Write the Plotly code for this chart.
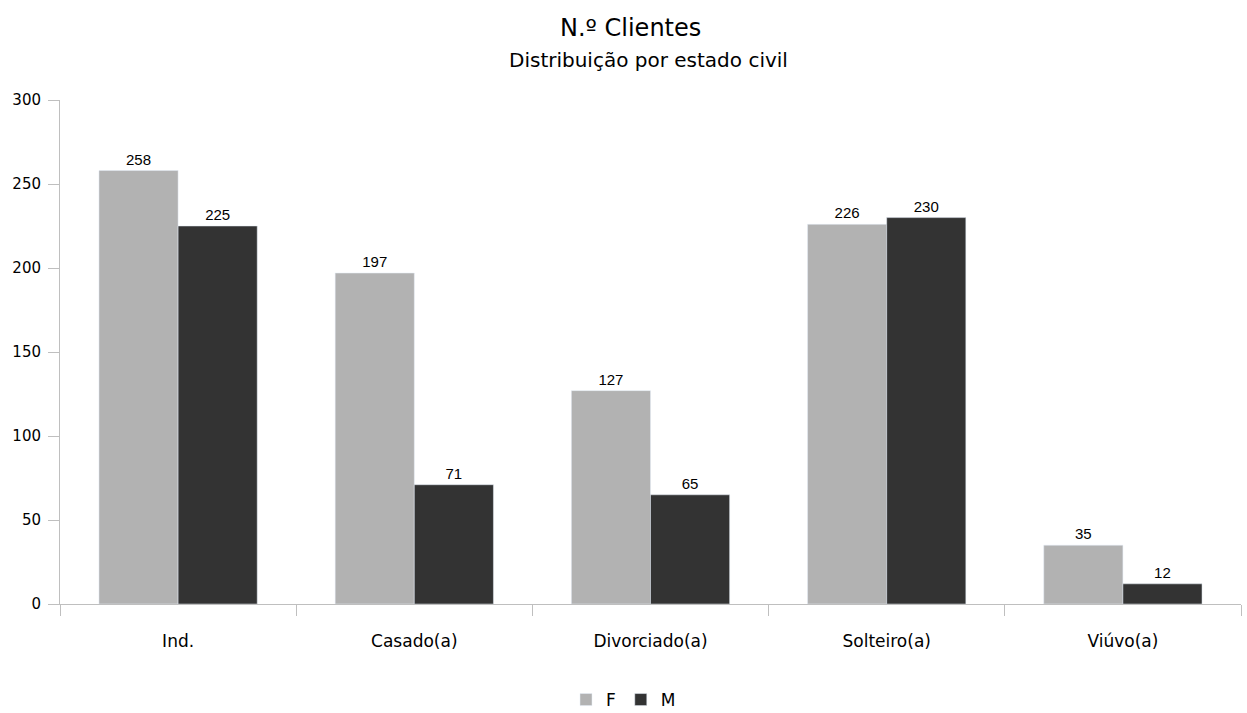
import plotly.graph_objects as go

categorias = ["Ind.", "Casado(a)", "Divorciado(a)", "Solteiro(a)", "Viúvo(a)"]
feminino = [258, 197, 127, 226, 35]
masculino = [225, 71, 65, 230, 12]
y_ticks = [0, 50, 100, 150, 200, 250, 300]

W, H = 1247, 713
ML, MR, MT, MB = 60, 6, 100, 109
PW, PH = W - ML - MR, H - MT - MB

BASE_FONT = "DejaVu Sans, Open Sans, sans-serif"
LABEL_FONT = "Liberation Sans, Arial, sans-serif"


def px_x(px):
    return (px - ML) / PW


def px_y(py):
    return (H - MB - py) / PH


fig = go.Figure()
fig.add_trace(go.Bar(
    name="F", x=categorias, y=feminino, marker_color="#b2b2b2",
    text=feminino, textposition="outside", cliponaxis=False,
    textfont=dict(family=LABEL_FONT, size=15, color="#000000"),
))
fig.add_trace(go.Bar(
    name="M", x=categorias, y=masculino, marker_color="#333333",
    text=masculino, textposition="outside", cliponaxis=False,
    textfont=dict(family=LABEL_FONT, size=15, color="#000000"),
))

fig.update_layout(
    width=W, height=H,
    paper_bgcolor="white", plot_bgcolor="white",
    margin=dict(l=ML, r=MR, t=MT, b=MB),
    barmode="group", bargap=0.33, bargroupgap=0,
    font=dict(family=BASE_FONT, color="#000000"),
    showlegend=True,
    legend=dict(
        orientation="h", x=0.5, xanchor="center", xref="container",
        y=1 - 700 / H, yanchor="middle", yref="container",
        font=dict(size=17), traceorder="normal",
        itemwidth=30, tracegroupgap=0,
    ),
    annotations=[
        dict(text="N.º Clientes", xref="paper", yref="paper",
             x=px_x(630), y=px_y(28),
             xanchor="center", yanchor="middle", showarrow=False,
             font=dict(size=24)),
        dict(text="Distribuição por estado civil", xref="paper", yref="paper",
             x=px_x(648), y=px_y(60),
             xanchor="center", yanchor="middle", showarrow=False,
             font=dict(size=20)),
    ],
)

fig.update_yaxes(
    range=[0, 300], tickvals=y_ticks, showgrid=False, zeroline=False,
    showline=True, linecolor="#bfbfbf", linewidth=1,
    ticks="outside", ticklen=11, tickcolor="#bfbfbf",
    tickfont=dict(size=15), ticklabelstandoff=4,
)
fig.update_xaxes(
    showgrid=False, showline=True, linecolor="#bfbfbf", linewidth=1,
    ticks="outside", ticklen=11, tickcolor="#bfbfbf", tickson="boundaries",
    tickfont=dict(size=17), ticklabelstandoff=22,
)

fig.write_html("out.html")
